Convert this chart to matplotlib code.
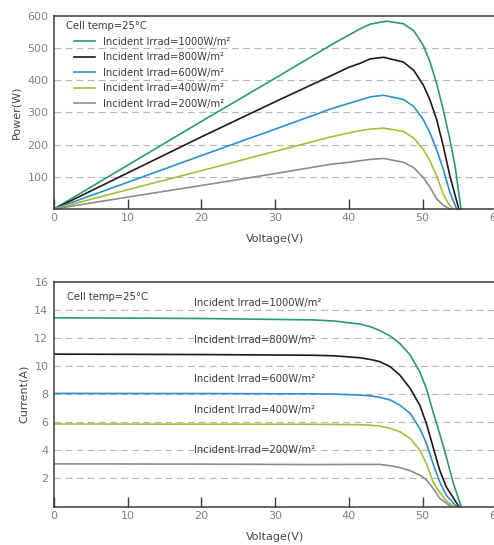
import matplotlib
matplotlib.use('Agg')
import matplotlib.pyplot as plt

# 数据
irrad_labels = ['Incident Irrad=1000W/m²', 'Incident Irrad=800W/m²', 'Incident Irrad=600W/m²',
                'Incident Irrad=400W/m²', 'Incident Irrad=200W/m²']
colors = ['#2a9a6e', '#231815', '#2e8fce', '#a2c037', '#8c8c8c']

# 功率曲线 P-V
pv_v = [
    [0, 10, 20, 30, 38, 40, 41.5, 42.9, 45.1, 47.4, 48.8, 50.1, 51.0, 51.9, 52.8, 53.7, 54.4, 55.2],
    [0, 10, 20, 30, 37.6, 40, 41.5, 42.9, 44.7, 47.4, 48.8, 50.1, 51.0, 51.9, 52.8, 53.7, 54.9],
    [0, 10, 20, 30, 37.6, 40, 41.5, 42.9, 44.7, 47.4, 48.8, 50.1, 51.0, 51.9, 52.8, 53.7, 54.6],
    [0, 10, 20, 30, 37.6, 40, 41.5, 42.9, 44.7, 47.4, 48.8, 50.1, 51.0, 51.9, 52.8, 53.4, 54.1],
    [0, 10, 20, 30, 37.6, 40, 41.5, 42.9, 44.7, 47.4, 48.8, 50.1, 51.0, 51.9, 52.8, 53.7],
]
pv_p = [
    [0, 136, 272, 406, 515, 540, 559, 574, 583, 575, 553, 507, 456, 389, 307, 215, 133, 0],
    [0, 112, 224, 333, 414, 440, 452, 466, 471, 456, 430, 384, 338, 277, 195, 102, 0],
    [0, 83, 166, 248, 311, 328, 338, 348, 353, 340, 318, 277, 236, 184, 123, 51, 0],
    [0, 60, 119, 179, 224, 236, 243, 248, 251, 241, 220, 184, 149, 102, 46, 20, 0],
    [0, 37, 73, 110, 139, 145, 150, 154, 157, 145, 128, 97, 67, 31, 12, 0],
]

# 电流曲线 I-V
iv_v = [
    [0, 20, 35, 38, 41.5, 43, 44.2, 45.6, 46.9, 48.3, 49.6, 50.5, 51.4, 52.3, 53.2, 54.1, 55.2],
    [0, 20, 35, 38, 41.5, 43, 44.2, 45.6, 46.9, 48.3, 49.6, 50.5, 51.4, 52.3, 53.2, 54.9],
    [0, 20, 35, 38, 41.5, 43, 44.2, 45.6, 46.9, 48.3, 49.6, 50.5, 51.4, 52.3, 53.2, 54.6],
    [0, 20, 35, 38, 41.5, 43, 44.2, 45.6, 46.9, 48.3, 49.6, 50.5, 51.4, 52.3, 53.2, 54.2],
    [0, 20, 35, 41.5, 44.2, 45.6, 46.9, 48.3, 49.6, 50.5, 51.4, 52.3, 53.8],
]
iv_i = [
    [13.45, 13.4, 13.3, 13.22, 13.0, 12.8, 12.53, 12.15, 11.62, 10.8, 9.6, 8.42, 6.76, 5.2, 3.55, 1.77, 0],
    [10.86, 10.83, 10.78, 10.74, 10.6, 10.47, 10.32, 9.96, 9.37, 8.42, 7.23, 5.92, 4.26, 2.6, 1.4, 0],
    [8.06, 8.05, 8.03, 8.01, 7.94, 7.88, 7.78, 7.59, 7.23, 6.64, 5.57, 4.5, 3.07, 1.77, 0.8, 0],
    [5.88, 5.87, 5.86, 5.85, 5.83, 5.79, 5.73, 5.57, 5.33, 4.86, 4.02, 3.07, 1.77, 1.0, 0.4, 0],
    [3.04, 3.02, 2.99, 3.0, 3.0, 2.91, 2.77, 2.55, 2.24, 1.9, 1.3, 0.59, 0],
]
# 下图文字位置（电压, 电流）
iv_text_pos = [(19, 14.5), (19, 11.9), (19, 9.1), (19, 6.87), (19, 4.0)]

tick_color = '#808080'
spine_color = '#3a3a3a'

fig = plt.figure(figsize=(4.94, 5.45), dpi=100)
ax1 = fig.add_axes([54 / 494, 1 - 209 / 545, 442.4 / 494, 193.3 / 545])
ax2 = fig.add_axes([54 / 494, 1 - 506.5 / 545, 442.4 / 494, 224.5 / 545])


def style(ax, ymax, ystep, ylabel):
    ax.set_xlim(0, 60)
    ax.set_ylim(0, ymax)
    ax.set_xticks(range(0, 61, 10))
    yt = [v for v in range(ystep, ymax + 1, ystep)]
    ax.set_yticks(yt)
    for v in yt[:-1]:
        ax.axhline(v, color='#b5b5b5', lw=0.8, ls=(0, (6, 4)), zorder=0)
    ax.tick_params(axis='x', direction='in', length=7, width=1, color=spine_color,
                   labelcolor=tick_color, labelsize=8, pad=3)
    ax.tick_params(axis='y', length=0, labelcolor=tick_color, labelsize=8, pad=4)
    for s in ['top', 'bottom', 'left']:
        ax.spines[s].set_color(spine_color)
        ax.spines[s].set_linewidth(1.1)
    ax.spines['right'].set_visible(False)
    ax.set_xlabel('Voltage(V)', color='#444444', fontsize=8, labelpad=8)
    ax.set_ylabel(ylabel, color='#444444', fontsize=8, labelpad=4)


style(ax1, 600, 100, 'Power(W)')
style(ax2, 16, 2, 'Current(A)')

for v, p, c, lab in zip(pv_v, pv_p, colors, irrad_labels):
    ax1.plot(v, p, color=c, lw=1.2, label=lab, clip_on=False)

leg = ax1.legend(loc='upper left', bbox_to_anchor=(0.045, 0.89), frameon=False, fontsize=7.2,
                 handlelength=2.1, handletextpad=0.8, labelspacing=0.55, borderaxespad=0,
                 borderpad=0, labelcolor='#3a3a3a')
ax1.text(0.027, 0.975, 'Cell temp=25°C', transform=ax1.transAxes, fontsize=7.2,
         color='#3a3a3a', va='top')

for v, i, c, lab, pos in zip(iv_v, iv_i, colors, irrad_labels, iv_text_pos):
    ax2.plot(v, i, color=c, lw=1.2)
    ax2.text(pos[0], pos[1], lab, fontsize=7.2, color='#3a3a3a', va='center')
ax2.text(1.8, 14.9, 'Cell temp=25°C', fontsize=7.2, color='#3a3a3a', va='center')

fig.savefig('out.png', dpi=100)
